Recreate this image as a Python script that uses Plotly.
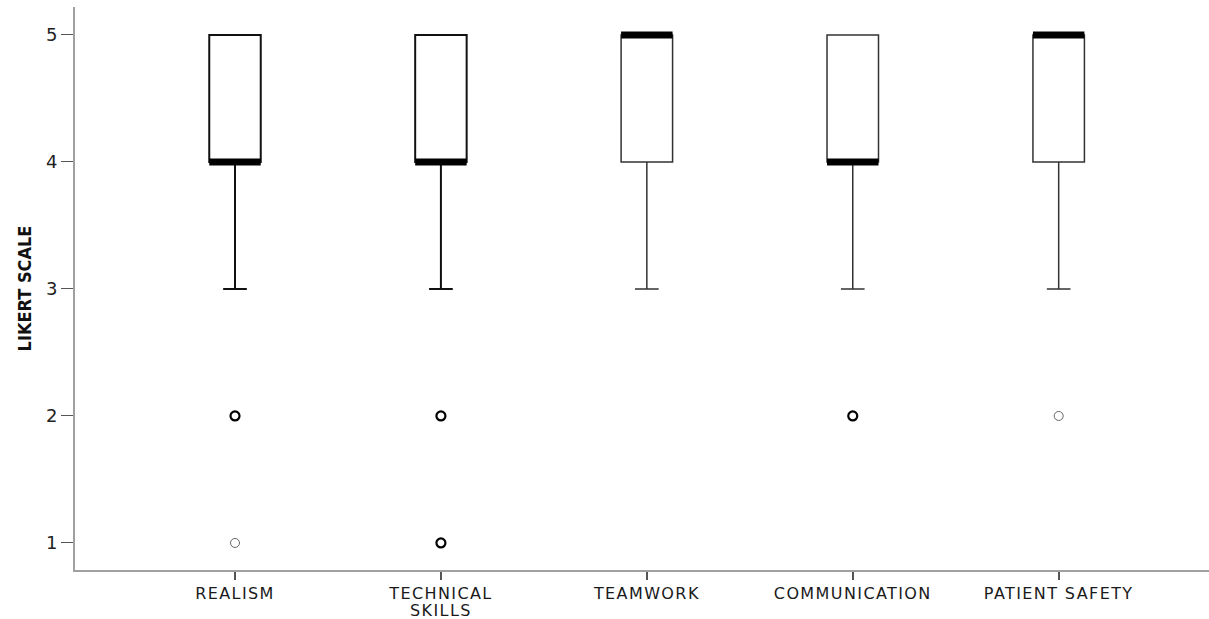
import plotly.graph_objects as go

categories = ["REALISM", "TECHNICAL<br>SKILLS", "TEAMWORK", "COMMUNICATION", "PATIENT SAFETY"]
q1 = [4, 4, 4, 4, 4]
median = [4, 4, 5, 4, 5]
q3 = [5, 5, 5, 5, 5]
lower_whisker = [3, 3, 3, 3, 3]
upper_whisker = [5, 5, 5, 5, 5]
# outliers: (category index, value, emphasised?)
outlier_cat = [0, 0, 1, 1, 3, 4]
outlier_val = [2, 1, 2, 1, 2, 2]
outlier_bold = [True, False, True, True, True, False]

y_ticks = [1, 2, 3, 4, 5]

BOX_W = 0.25
fig = go.Figure()

for i, cat in enumerate(categories):
    thick = i in (0, 1)
    fig.add_trace(go.Box(
        x=[i], q1=[q1[i]], median=[median[i]], q3=[q3[i]],
        lowerfence=[lower_whisker[i]], upperfence=[upper_whisker[i]],
        width=BOX_W, whiskerwidth=0.46,
        fillcolor="white",
        line=dict(color="#111111" if thick else "#333333", width=2 if thick else 1.5),
        boxpoints=False, hoverinfo="skip", showlegend=False,
    ))

# thick median bars
mx, my = [], []
for i in range(len(categories)):
    mx += [i - BOX_W / 2, i + BOX_W / 2, None]
    my += [median[i], median[i], None]
fig.add_trace(go.Scatter(x=mx, y=my, mode="lines",
                         line=dict(color="black", width=7),
                         hoverinfo="skip", showlegend=False))

bx = [c for c, b in zip(outlier_cat, outlier_bold) if b]
by = [v for v, b in zip(outlier_val, outlier_bold) if b]
lx = [c for c, b in zip(outlier_cat, outlier_bold) if not b]
ly = [v for v, b in zip(outlier_val, outlier_bold) if not b]
fig.add_trace(go.Scatter(x=bx, y=by, mode="markers",
                         marker=dict(symbol="circle-open", size=9, color="black",
                                     line=dict(width=2.2, color="black")),
                         hoverinfo="skip", showlegend=False))
fig.add_trace(go.Scatter(x=lx, y=ly, mode="markers",
                         marker=dict(symbol="circle-open", size=9, color="#666666",
                                     line=dict(width=1, color="#666666")),
                         hoverinfo="skip", showlegend=False))

fig.update_layout(
    width=1209, height=619,
    margin=dict(l=75, r=0, t=7, b=49, autoexpand=False),
    plot_bgcolor="white", paper_bgcolor="white",
    font=dict(family="DejaVu Sans", color="#222222"),
)
fig.update_xaxes(
    range=[-0.777, 4.73],
    tickmode="array", tickvals=list(range(len(categories))), ticktext=categories,
    showline=True, linecolor="#a0a0a0", linewidth=2,
    ticks="outside", ticklen=8, tickwidth=1.5, tickcolor="#555555",
    tickfont=dict(size=16, color="#1a1a1a"),
    showgrid=False, zeroline=False, automargin=False,
)
fig.update_yaxes(
    range=[0.787, 5.22],
    tickmode="array", tickvals=y_ticks, ticktext=[str(t) for t in y_ticks],
    showline=True, linecolor="#a0a0a0", linewidth=2,
    ticks="outside", ticklen=12, tickwidth=1.2, tickcolor="#555555",
    tickfont=dict(size=18, color="#222222"),
    showgrid=False, zeroline=False, automargin=False,
    title=dict(text="LIKERT SCALE", standoff=10,
               font=dict(family="DejaVu Sans Condensed", size=18, color="#111111", weight=600)),
)

post = """
document.body.style.margin='0';
var gd=document.getElementById('{plot_id}');
gd.querySelectorAll('.xtick text').forEach(function(t){t.style.letterSpacing='1.4px';});
gd.querySelectorAll('.xtick text tspan.line').forEach(function(s,i){
  var dy=s.getAttribute('dy'); if(dy && parseFloat(dy)>0){s.setAttribute('dy','1.08em');}
});
"""
fig.write_html("out.html", config={"displayModeBar": False}, post_script=post)
